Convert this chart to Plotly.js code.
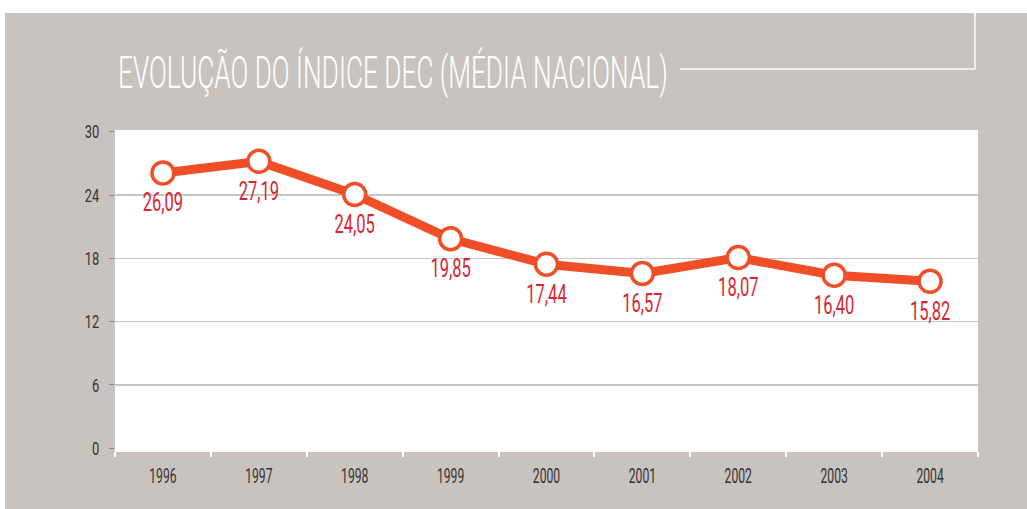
<!DOCTYPE html>
<html>
<head>
<meta charset="utf-8">
<script src="https://cdn.plot.ly/plotly-3.0.1.min.js"></script>
<style>
  html, body { margin: 0; padding: 0; background: #ffffff; width: 1027px; height: 509px; overflow: hidden; }
  #chart { position: absolute; left: 5px; top: 13px; width: 1022px; height: 496px; }
</style>
</head>
<body>
<div id="chart"></div>
<script>
// ---- data ----
const years = ["1996", "1997", "1998", "1999", "2000", "2001", "2002", "2003", "2004"];
const decValues = [26.09, 27.19, 24.05, 19.85, 17.44, 16.57, 18.07, 16.40, 15.82];
const yTickValues = [0, 6, 12, 18, 24, 30];
const gridValues = [6, 12, 18, 24];
const titleText = "EVOLUÇÃO DO ÍNDICE DEC (MÉDIA NACIONAL)";

// ---- style ----
const BG = "#c9c3c0";
const ORANGE = "#f04e27";
const RED = "#d52631";
const FONT = "Roboto, Liberation Sans, Arial, sans-serif";

const trace = {
  type: "scatter",
  mode: "lines+markers+text",
  x: years,
  y: decValues,
  line: { color: ORANGE, width: 9 },
  marker: { size: 22, color: "#ffffff", line: { color: ORANGE, width: 3.5 } },
  texttemplate: "%{y:.2f}",
  textposition: "bottom center",
  textfont: { family: FONT, size: 25, color: RED, weight: 400 },
  hoverinfo: "skip",
  cliponaxis: false
};

const yr = [-0.16, 30.16];

const layout = {
  width: 1022,
  height: 496,
  margin: { l: 110, r: 49, t: 117, b: 59, pad: 0 },
  paper_bgcolor: BG,
  plot_bgcolor: "#ffffff",
  separators: ",.",
  showlegend: false,
  font: { family: FONT, color: "#333333" },
  title: {
    text: titleText,
    font: { family: FONT, size: 44, color: "#ffffff", weight: 300 },
    xref: "container", yref: "container",
    x: 113 / 1022, xanchor: "left",
    y: 1 - 60 / 496, yanchor: "middle"
  },
  xaxis: {
    type: "category",
    range: [-0.5, years.length - 0.5],
    tickson: "boundaries",
    ticks: "outside",
    ticklen: 5,
    tickwidth: 2,
    tickcolor: "#ffffff",
    showline: true,
    linecolor: "#ffffff",
    linewidth: 2,
    showgrid: false,
    zeroline: false,
    tickfont: { family: FONT, size: 21, color: "#333333" },
    ticklabelstandoff: 6,
    fixedrange: true
  },
  yaxis: {
    range: yr,
    tickvals: yTickValues,
    ticktext: yTickValues.map(String),
    ticks: "outside",
    ticklen: 5,
    tickwidth: 1,
    tickcolor: "#8a8a8a",
    showgrid: false,
    zeroline: false,
    showline: false,
    tickfont: { family: FONT, size: 19, color: "#333333" },
    ticklabelstandoff: 6,
    fixedrange: true
  },
  yaxis2: {
    overlaying: "y",
    range: yr,
    tickvals: gridValues,
    showticklabels: false,
    ticks: "",
    showgrid: true,
    gridcolor: "#c4c6c8",
    gridwidth: 1.5,
    zeroline: false,
    fixedrange: true
  },
  shapes: [
    { type: "line", xref: "paper", yref: "paper",
      x0: (970 - 110) / 863, x1: (970 - 110) / 863, y0: (437 - 0) / 320, y1: (437 - 56) / 320,
      line: { color: "#ffffff", width: 1.5 } },
    { type: "line", xref: "paper", yref: "paper",
      x0: (675 - 110) / 863, x1: (970 - 110) / 863, y0: (437 - 56) / 320, y1: (437 - 56) / 320,
      line: { color: "#ffffff", width: 1.5 } }
  ]
};

// ghost trace to activate yaxis2 grid
const gridTrace = { type: "scatter", x: years, y: decValues, yaxis: "y2", mode: "none", hoverinfo: "skip", showlegend: false };

function condense(selector, s, dy) {
  document.querySelectorAll(selector).forEach(function (el) {
    if (el.getAttribute("data-condensed")) return;
    const x = parseFloat(el.getAttribute("x")) || 0;
    const prev = el.getAttribute("transform") || "";
    el.setAttribute("transform", prev + " translate(" + (x * (1 - s)) + "," + (dy || 0) + ") scale(" + s + ",1)");
    el.setAttribute("data-condensed", "1");
  });
}

function condenseToWidth(selector, target) {
  const el = document.querySelector(selector);
  if (!el) return;
  const w = el.getBBox().width;
  if (w > 0) condense(selector, target / w);
}

Plotly.newPlot("chart", [gridTrace, trace], layout, { displayModeBar: false, staticPlot: true, responsive: false })
  .then(function () {
    condenseToWidth(".gtitle", 550);
    condense(".xtick text", 0.58);
    condense(".ytick text", 0.68);
    condense(".textpoint text", 0.66, 5);
  });
</script>
</body>
</html>
